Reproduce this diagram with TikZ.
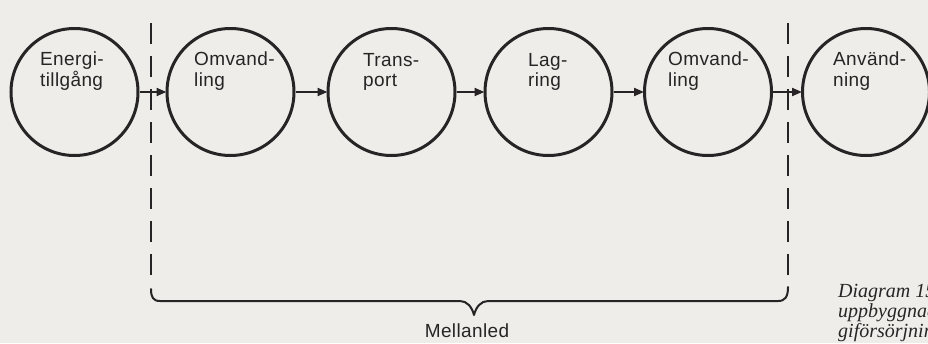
\documentclass[tikz,border=0pt]{standalone}
\usepackage{fontspec}
\usetikzlibrary{arrows.meta}
\newfontfamily\labfont{Liberation Sans}[LetterSpace=2]
\newfontfamily\capfont{Liberation Serif}
\definecolor{ink}{RGB}{40,36,38}
\definecolor{paper}{RGB}{238,237,233}
\tikzset{
  proc/.style={circle, draw=ink, line width=3pt, minimum size=127pt, inner sep=0pt},
  lab/.style={text=ink, font=\labfont\fontsize{19}{20.5}\selectfont, align=left, inner sep=0pt},
  capt/.style={text=ink, font=\capfont\itshape\fontsize{20}{20}\selectfont, inner sep=0pt},
  flow/.style={draw=ink, line width=2pt, -{Triangle[length=10pt,width=8pt]}, shorten >=-1pt},
  divider/.style={draw=ink, line width=2pt, dash pattern=on 21pt off 12pt},
  bracepath/.style={draw=ink, line width=2pt, line cap=round, line join=round}
}
\begin{document}
\begin{tikzpicture}[x=1pt,y=-1pt]
\useasboundingbox (0,0) rectangle (928,343);
\fill[paper] (0,0) rectangle (928,343);
\clip (0,0) rectangle (928,343);

% circles
\node[proc] (c1) at (74.5,92) {};
\node[proc] (c2) at (230.5,92) {};
\node[proc] (c3) at (391.5,92) {};
\node[proc] (c4) at (548.5,92) {};
\node[proc] (c5) at (708,92) {};
\node[proc] (c6) at (866,92) {};

% labels
\node[lab, anchor=base west] (t1) at (40,86) {Energi-\\tillgång};
\node[lab, anchor=base west] (t2) at (194,86) {Omvand-\\ling};
\node[lab, anchor=base west] (t3) at (363,86.5) {Trans-\\port};
\node[lab, anchor=base west] (t4) at (528,86.5) {Lag-\\ring};
\node[lab, anchor=base west] (t5) at (668,86) {Omvand-\\ling};
\node[lab, anchor=base west] (t6) at (833,86) {Använd-\\ning};

% arrows
\draw[flow] (c1) -- (c2);
\draw[flow] (c2) -- (c3);
\draw[flow] (c3) -- (c4);
\draw[flow] (c4) -- (c5);
\draw[flow] (c5) -- (c6);

% dashed dividers
\coordinate (dlt) at (151,23);
\coordinate (dlb) at (151,278);
\coordinate (drt) at (788,23);
\coordinate (drb) at (788,278);
\draw[divider] (dlt) -- (dlb);
\draw[divider] (drt) -- (drb);

% brace
\coordinate (bl) at (151,289);
\coordinate (br) at (788,287);
\coordinate (tip) at (474,315);
\draw[bracepath] (bl) .. controls (151,297) and (153,301) .. (160,301)
  -- (460,301) .. controls (467,301) and (472,307) .. (tip)
  .. controls (476,307) and (481,301) .. (488,301)
  -- (778,301) .. controls (785,301) and (788,297) .. (br);

\node[lab, anchor=base] (mel) at (467,337) {Mellanled};

% caption (cut off at the right edge, as in the reference)
\node[capt, anchor=base west] (cap1) at (838,297) {Diagram 15};
\node[capt, anchor=base west] (cap2) at (838,317) {uppbyggnad};
\node[capt, anchor=base west] (cap3) at (838,337) {giförsörjning};
\end{tikzpicture}
\end{document}
